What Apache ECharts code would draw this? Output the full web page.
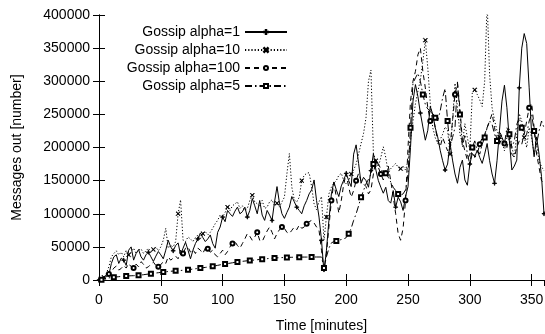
<!DOCTYPE html>
<html>
<head>
<meta charset="utf-8">
<script src="https://cdn.jsdelivr.net/npm/echarts@6/dist/echarts.min.js"></script>
<style>html,body{margin:0;padding:0;background:#fff}#chart{width:545px;height:334px}</style>
</head>
<body>
<div id="chart"></div>
<script>
const timeMinutes = [0,2,4,6,8,10,12,14,16,18,20,22,24,26,28,30,32,34,36,38,40,42,44,46,48,50,52,54,56,58,60,62,64,66,68,70,72,74,76,78,80,82,84,86,88,90,92,94,96,98,100,102,104,106,108,110,112,114,116,118,120,122,124,126,128,130,132,134,136,138,140,142,144,146,148,150,152,154,156,158,160,162,164,166,168,170,172,174,176,178,180,182,184,186,188,190,192,194,196,198,200,202,204,206,208,210,212,214,216,218,220,222,224,226,228,230,232,234,236,238,240,242,244,246,248,250,252,254,256,258,260,262,264,266,268,270,272,274,276,278,280,282,284,286,288,290,292,294,296,298,300,302,304,306,308,310,312,314,316,318,320,322,324,326,328,330,332,334,336,338,340,342,344,346,348,350,352,354,356,358,360];

const seriesNames = ['Gossip alpha=1','Gossip alpha=10','Gossip alpha=100','Gossip alpha=5'];

const alpha1 = [0,1000,3000,5000,8000,25000,35000,38000,25000,33000,30000,22000,45000,50000,30000,40000,46000,35000,30000,38000,42000,35000,28000,36000,43000,38000,32000,45000,60000,50000,44000,52000,56000,38000,48000,57000,45000,32000,45000,55000,62000,71000,64000,58000,62000,68000,55000,48000,72000,80000,95000,88000,105000,100000,96000,104000,110000,100000,103000,110000,95000,105000,123000,112000,100000,120000,98000,90000,105000,98000,90000,118000,141000,116000,100000,93000,102000,110000,126000,118000,110000,105000,100000,112000,120000,130000,136000,151000,120000,95000,60000,12000,45000,90000,130000,148000,136000,126000,142000,151000,161000,150000,141000,190000,204000,176000,146000,155000,150000,140000,165000,191000,166000,150000,140000,131000,140000,120000,116000,135000,110000,125000,118000,105000,126000,141000,200000,270000,295000,277000,252000,231000,211000,226000,262000,250000,230000,216000,196000,180000,166000,175000,206000,181000,160000,146000,170000,181000,151000,143000,175000,191000,186000,196000,185000,176000,190000,206000,180000,160000,146000,180000,226000,270000,294000,260000,210000,166000,172000,181000,290000,350000,372000,357000,290000,220000,186000,216000,190000,156000,100000];

const alpha10 = [0,1000,4000,10000,20000,35000,40000,44000,38000,42000,35000,45000,38000,42000,48000,40000,45000,47000,40000,44000,48000,42000,46000,50000,44000,50000,60000,78000,48000,52000,50000,58000,100000,121000,60000,58000,65000,62000,58000,64000,68000,62000,70000,73000,68000,72000,78000,85000,90000,98000,95000,102000,110000,105000,112000,115000,118000,108000,112000,105000,108000,120000,128000,118000,115000,112000,120000,108000,110000,118000,121000,112000,116000,110000,118000,125000,160000,191000,140000,121000,118000,125000,150000,158000,161000,162000,141000,115000,106000,118000,126000,60000,95000,130000,140000,146000,150000,158000,161000,150000,145000,150000,160000,166000,175000,190000,206000,221000,245000,300000,317000,191000,180000,171000,185000,201000,185000,161000,168000,172000,176000,170000,168000,172000,166000,180000,211000,240000,266000,285000,302000,330000,362000,320000,267000,230000,215000,206000,212000,220000,231000,226000,190000,240000,297000,260000,220000,206000,236000,215000,196000,282000,287000,280000,272000,262000,300000,420000,310000,260000,241000,225000,216000,210000,195000,215000,228000,200000,186000,220000,251000,240000,215000,200000,230000,215000,190000,205000,180000,171000,165000];

const alpha100 = [0,500,2000,5000,9000,12500,18000,21000,15000,17500,22000,18000,25000,20000,18000,24000,20000,27600,24000,18000,20000,24000,27000,22000,20000,23000,28000,25000,35000,30000,33000,36000,32000,45000,40000,48000,50000,42000,46000,40000,48000,45000,40000,48000,47000,42000,45000,38000,35000,40000,45000,38000,43000,50000,55000,58000,52000,48000,55000,62000,70000,66000,60000,65000,72000,60000,58000,66000,74000,80000,72000,62000,70000,76000,80000,78000,72000,70000,75000,80000,76000,83000,78000,80000,85000,88000,90000,86000,80000,75000,45000,15000,40000,80000,120000,147000,125000,101000,120000,145000,161000,140000,125000,135000,150000,161000,150000,145000,141000,130000,136000,160000,181000,170000,160000,151000,165000,172000,150000,126000,100000,70000,60000,78000,120000,200000,270000,300000,315000,340000,350000,315000,290000,260000,240000,251000,230000,210000,201000,215000,205000,195000,201000,240000,280000,297000,260000,210000,195000,181000,190000,200000,185000,190000,205000,215000,220000,230000,240000,251000,230000,210000,205000,215000,206000,200000,215000,190000,185000,200000,210000,205000,220000,240000,260000,267000,230000,190000,170000,150000,146000];

const alpha5 = [0,500,1500,2500,3200,3800,4200,4600,5000,5400,5700,6000,6200,6400,6500,6700,7000,7500,8000,8500,9000,9500,10000,10500,11000,11500,12000,12400,12800,13200,13500,13800,14100,14400,14700,15000,15500,16000,16500,17000,17500,18000,18500,19000,19500,20000,20700,21400,22100,22900,23600,24200,24800,25400,26000,26700,27200,27700,28200,28600,29000,29400,29800,30200,30600,31000,31400,31800,32200,32600,33000,33200,33400,33600,33800,34000,34100,34200,34300,34400,34500,34500,34600,34600,34600,34700,34700,34700,34700,34700,34700,18000,35000,48000,56000,58000,59000,60000,61000,62000,64000,70000,78000,90000,100000,112000,125000,135000,145000,152000,160000,175000,181000,175000,168000,162000,161000,155000,148000,140000,135000,130000,128000,130000,136000,160000,230000,297000,305000,312000,300000,280000,265000,258000,255000,252000,245000,240000,255000,275000,289000,240000,201000,215000,230000,299000,250000,200000,220000,190000,175000,200000,210000,195000,190000,205000,215000,230000,240000,235000,220000,210000,225000,215000,205000,230000,220000,200000,210000,235000,245000,230000,215000,220000,240000,250000,225000,205000,225000,240000,230000];

const xTickInterval = 50;
const yTickInterval = 50000;

const valueSets = [alpha1, alpha10, alpha100, alpha5];
const symbols = [
  'path://M0,4.4h10v1.2h-10zM4.4,0h1.2v10h-1.2z',
  'path://M0,0.8L0.8,0L10,9.2L9.2,10zM9.2,0L10,0.8L0.8,10L0,9.2z',
  'emptyCircle',
  'emptyRect'
];
const dashes = ['solid', [1.2, 2], [5, 4], [7, 3, 1.5, 3]];
const markOffsets = [0, 2, 4, 1];
const markEvery = [10, 10, 10, 5];

const chart = echarts.init(document.getElementById('chart'), null, {renderer: 'canvas'});
const font = 'Liberation Sans, Arial, Helvetica, sans-serif';

const series = valueSets.map((vals, i) => ({
  name: seriesNames[i],
  type: 'line',
  xAxisIndex: 0,
  yAxisIndex: 0,
  data: vals.map((v, k) => [timeMinutes[k], v]),
  symbol: symbols[i],
  showAllSymbol: true,
  symbolSize: (val, params) => (params.dataIndex % markEvery[i] === markOffsets[i] ? 4 : 0),
  itemStyle: {color: '#000', borderColor: '#000', borderWidth: 0.8},
  lineStyle: {color: '#000', width: 1, type: dashes[i]},
  emphasis: {disabled: true},
  clip: true,
  z: 2 + i
}));

const axisLineStyle = {show: true, lineStyle: {color: '#000', width: 1}};
const tickStyle = {show: true, inside: true, length: 6, lineStyle: {color: '#000', width: 1}};

chart.setOption({
  animation: false,
  backgroundColor: '#fff',
  grid: {left: 99, right: 1, top: 15, bottom: 54, containLabel: false, outerBoundsMode: 'none'},
  legend: {
    orient: 'vertical',
    right: 257,
    top: 24,
    padding: 0,
    align: 'right',
    itemWidth: 42,
    itemHeight: 5,
    itemGap: 2,
    selectedMode: false,
    textStyle: {fontFamily: font, fontSize: 14, lineHeight: 16, color: '#000'},
    data: seriesNames
  },
  xAxis: [
    {
      type: 'value', min: 0, max: 360, interval: xTickInterval, position: 'bottom',
      name: 'Time [minutes]', nameLocation: 'middle', nameGap: 39,
      nameTextStyle: {fontFamily: font, fontSize: 14, color: '#000'},
      axisLine: axisLineStyle, axisTick: tickStyle,
      axisLabel: {fontFamily: font, fontSize: 14, color: '#000', margin: 13, showMaxLabel: false},
      splitLine: {show: false}
    },
    {
      type: 'value', min: 0, max: 360, interval: xTickInterval, position: 'top',
      axisLine: axisLineStyle, axisTick: tickStyle,
      axisLabel: {show: false}, splitLine: {show: false}
    }
  ],
  yAxis: [
    {
      type: 'value', min: 0, max: 400000, interval: yTickInterval, position: 'left',
      name: 'Messages out [number]', nameLocation: 'middle', nameGap: 75,
      nameTextStyle: {fontFamily: font, fontSize: 14, color: '#000'},
      axisLine: axisLineStyle, axisTick: tickStyle,
      axisLabel: {fontFamily: font, fontSize: 14, color: '#000', margin: 9, formatter: v => String(v)},
      splitLine: {show: false}
    },
    {
      type: 'value', min: 0, max: 400000, interval: yTickInterval, position: 'right',
      axisLine: axisLineStyle, axisTick: tickStyle,
      axisLabel: {show: false}, splitLine: {show: false}
    }
  ],
  series: series
});
</script>
</body>
</html>
